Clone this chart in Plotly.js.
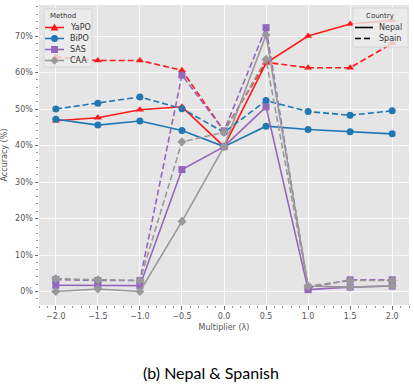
<!DOCTYPE html>
<html>
<head>
<meta charset="utf-8">
<script src="https://cdn.plot.ly/plotly-3.0.1.min.js"></script>
<style>html,body{margin:0;padding:0;background:#fff;}#chart{width:414px;height:384px;}</style>
</head>
<body>
<div id="chart"></div>
<script>
const multipliers = [-2.0, -1.5, -1.0, -0.5, 0.0, 0.5, 1.0, 1.5, 2.0];
const methods = ["YaPO", "BiPO", "SAS", "CAA"];
const countries = ["Nepal", "Spain"];

const yapoNepal = [46.8, 47.6, 49.8, 50.6, 39.7, 62.6, 70.0, 73.3, 74.3];
const yapoSpain = [64.3, 63.3, 63.3, 60.6, 44.0, 62.8, 61.3, 61.3, 68.0];
const bipoNepal = [47.2, 45.6, 46.7, 44.1, 39.7, 45.3, 44.4, 43.8, 43.2];
const bipoSpain = [50.0, 51.6, 53.3, 50.1, 43.6, 52.3, 49.3, 48.3, 49.5];
const sasNepal  = [1.7, 1.6, 1.6, 33.4, 39.7, 50.6, 0.5, 1.2, 1.5];
const sasSpain  = [3.3, 3.0, 3.0, 59.3, 44.0, 72.3, 1.0, 3.2, 3.2];
const caaNepal  = [0.0, 0.7, 0.0, 19.2, 39.7, 70.3, 1.5, 1.2, 1.5];
const caaSpain  = [3.5, 3.2, 3.0, 41.0, 43.6, 63.6, 1.5, 3.0, 3.0];

const yTickVals = [0, 10, 20, 30, 40, 50, 60, 70];
const yTickText = ["0%", "10%", "20%", "30%", "40%", "50%", "60%", "70%"];
const xTickVals = [-2.0, -1.5, -1.0, -0.5, 0.0, 0.5, 1.0, 1.5, 2.0];

const colors = ["#ff1a1a", "#1f77b4", "#9467bd", "#999999"];
const symbols = ["triangle-up", "circle", "square", "diamond"];
const nepalSeries = [yapoNepal, bipoNepal, sasNepal, caaNepal];
const spainSeries = [yapoSpain, bipoSpain, sasSpain, caaSpain];
const DASH = "6px,3px";

const traces = [];
methods.forEach((m, i) => {
  traces.push({
    x: multipliers, y: nepalSeries[i], type: "scatter", mode: "lines+markers",
    name: m + " (" + countries[0] + ")", showlegend: false,
    line: {color: colors[i], width: 1.6},
    marker: {color: colors[i], symbol: symbols[i], size: 7}
  });
  traces.push({
    x: multipliers, y: spainSeries[i], type: "scatter", mode: "lines+markers",
    name: m + " (" + countries[1] + ")", showlegend: false,
    line: {color: colors[i], width: 1.6, dash: DASH},
    marker: {color: colors[i], symbol: symbols[i], size: 7}
  });
});

// ---- plot-area geometry (pixels) for the hand-built legends ----
const ML = 39, MR = 5, MT = 5, MB = 79, FW = 414, FH = 384;
const PW = FW - ML - MR, PH = FH - MT - MB;
const px = p => (p - ML) / PW;
const py = p => (MT + PH - p) / PH;

const shapes = [];
const annotations = [];
const legFont = {family: "DejaVu Sans", size: 8, color: "#333333"};
const legTitleFont = {family: "DejaVu Sans", size: 7, color: "#333333"};

function box(x0, y0, x1, y1) {
  shapes.push({type: "rect", xref: "paper", yref: "paper", layer: "above",
    x0: px(x0), x1: px(x1), y0: py(y1), y1: py(y0),
    fillcolor: "rgba(236,236,236,0.82)", line: {color: "#d0d0d0", width: 0.8}});
}
function segment(x0, x1, y, color, dash) {
  shapes.push({type: "line", xref: "paper", yref: "paper", layer: "above",
    x0: px(x0), x1: px(x1), y0: py(y), y1: py(y),
    line: {color: color, width: 1.6, dash: dash || "solid"}});
}
function marker(cx, cy, sym, color) {
  const r = 3.5;
  let path;
  if (sym === "circle") {
    shapes.push({type: "circle", xref: "paper", yref: "paper", layer: "above",
      x0: px(cx - r), x1: px(cx + r), y0: py(cy + r), y1: py(cy - r),
      fillcolor: color, line: {width: 0}});
    return;
  } else if (sym === "square") {
    path = [[cx - r, cy - r], [cx + r, cy - r], [cx + r, cy + r], [cx - r, cy + r]];
  } else if (sym === "triangle-up") {
    path = [[cx, cy - 4], [cx + 4, cy + 3], [cx - 4, cy + 3]];
  } else {
    path = [[cx, cy - 4.2], [cx + 4.2, cy], [cx, cy + 4.2], [cx - 4.2, cy]];
  }
  const d = path.map((p, k) => (k ? "L" : "M") + px(p[0]) + "," + py(p[1])).join(" ") + " Z";
  shapes.push({type: "path", xref: "paper", yref: "paper", layer: "above", path: d,
    fillcolor: color, line: {width: 0}});
}
function label(x, y, text, font, anchor) {
  annotations.push({text: text, xref: "paper", yref: "paper", x: px(x), y: py(y),
    xanchor: anchor || "left", yanchor: "middle", showarrow: false, font: font});
}

// Method legend
box(44, 9, 92, 67);
label(62.5, 16, "Method", legTitleFont, "center");
const rowY = [27.5, 38.5, 49.5, 60.5];
methods.forEach((m, i) => {
  segment(45, 64, rowY[i], colors[i]);
  marker(54.5, rowY[i], symbols[i], colors[i]);
  label(68, rowY[i], m, legFont);
});

// Country legend
box(353, 8, 408, 47);
label(380, 15.5, "Country", legTitleFont, "center");
segment(355, 373, 27.5, "#000000");
label(377, 27.5, countries[0], legFont);
segment(355, 373, 38.5, "#000000", DASH);
label(377, 38.5, countries[1], legFont);

// caption
annotations.push({
  text: "(b) Nepal &amp; Spanish", xref: "paper", yref: "paper",
  x: 0.465, y: -0.225, xanchor: "center", yanchor: "middle", showarrow: false,
  font: {family: "Lato", size: 16, color: "#000000"}
});

const tickFont = {family: "DejaVu Sans", size: 8, color: "#555555"};

const layout = {
  width: FW, height: FH,
  margin: {l: ML, r: MR, t: MT, b: MB},
  paper_bgcolor: "#ffffff",
  plot_bgcolor: "#e5e5e5",
  font: {family: "DejaVu Sans", size: 8, color: "#555555"},
  showlegend: false,
  xaxis: {
    range: [-2.2, 2.2], tickvals: xTickVals, tickformat: ".1f",
    showgrid: true, gridcolor: "#ffffff", gridwidth: 0.8, zeroline: false,
    ticks: "outside", ticklen: 3.5, tickcolor: "#555555", tickwidth: 0.8,
    tickfont: tickFont,
    minor: {dtick: 0.1, ticks: "outside", ticklen: 2, tickcolor: "#777777", showgrid: false},
    title: {text: "Multiplier (λ)", font: {family: "DejaVu Sans", size: 8, color: "#555555"}, standoff: 4},
    showline: false
  },
  yaxis: {
    range: [-3.7, 78.5], tickvals: yTickVals, ticktext: yTickText,
    showgrid: true, gridcolor: "#ffffff", gridwidth: 0.8, zeroline: false,
    ticks: "outside", ticklen: 3.5, tickcolor: "#555555", tickwidth: 0.8,
    tickfont: tickFont,
    minor: {dtick: 2, ticks: "outside", ticklen: 2, tickcolor: "#777777", showgrid: false},
    title: {text: "Accuracy (%)", font: {family: "DejaVu Sans", size: 8, color: "#555555"}, standoff: 6},
    showline: false
  },
  shapes: shapes,
  annotations: annotations
};

Plotly.newPlot("chart", traces, layout, {displayModeBar: false, staticPlot: true});
</script>
</body>
</html>
